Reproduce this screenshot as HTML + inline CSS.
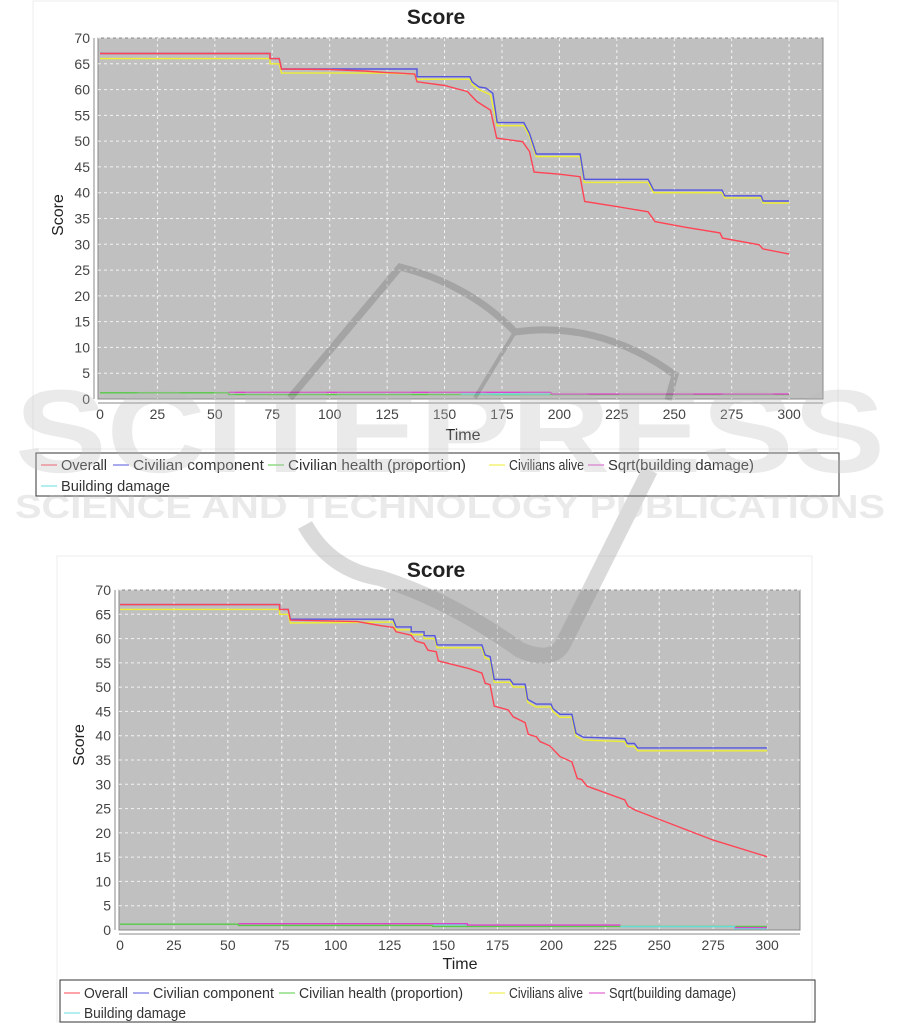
<!DOCTYPE html>
<html><head><meta charset="utf-8"><style>
html,body{margin:0;padding:0;background:#fff;}
svg{display:block;font-family:"Liberation Sans",sans-serif;}
</style></head><body>
<svg id="s" width="901" height="1024" viewBox="0 0 901 1024" xmlns="http://www.w3.org/2000/svg"></svg>
<script>
var NS="http://www.w3.org/2000/svg",S=document.getElementById('s');
function el(t,a,txt){var e=document.createElementNS(NS,t);for(var k in a)e.setAttribute(k,a[k]);if(txt!=null)e.textContent=txt;S.appendChild(e);return e;}
function chart(c){
 var X=function(t){return c.x0+t*c.sx},Y=function(v){return c.y0-v*c.sy};
 el('rect',{x:c.card[0],y:c.card[1],width:c.card[2],height:c.card[3],fill:'#fff',stroke:'#ececec'});
 el('text',{x:c.tx,y:c.ty,'font-size':21,'font-weight':'bold','text-anchor':'middle',fill:'#222'},'Score');
 el('rect',{x:c.px,y:c.py,width:c.pw,height:c.ph,fill:'#c0c0c0',stroke:'#888'});
 for(var t=25;t<=300;t+=25)el('line',{x1:X(t),x2:X(t),y1:c.py,y2:c.py+c.ph,stroke:'#fff','stroke-dasharray':'3,3','stroke-width':1,opacity:.8});
 for(var v=5;v<=70;v+=5)el('line',{x1:c.px,x2:c.px+c.pw,y1:Y(v),y2:Y(v),stroke:'#fff','stroke-dasharray':'3,3','stroke-width':1,opacity:.8});
 el('line',{x1:c.px-4,x2:c.px-4,y1:c.py,y2:c.py+c.ph,stroke:'#888'});
 el('line',{x1:c.px,x2:c.px+c.pw,y1:c.py+c.ph+4,y2:c.py+c.ph+4,stroke:'#888'});
 for(var t=0;t<=300;t+=25){el('text',{x:X(t),y:c.py+c.ph+20,'font-size':14,'text-anchor':'middle',fill:'#444'},t);}
 for(var v=0;v<=70;v+=5){el('text',{x:c.px-8,y:Y(v)+5,'font-size':14,'text-anchor':'end',fill:'#444'},v);}
 el('text',{x:c.timex,y:c.timey,'font-size':16,'text-anchor':'middle',fill:'#222'},'Time');
 el('text',{transform:'translate('+c.scx+','+c.scy+') rotate(-90)','font-size':16,'text-anchor':'middle',fill:'#222'},'Score');
 c.series.forEach(function(s){
  var d='';s.p.forEach(function(p,i){d+=(i?'L':'M')+X(p[0]).toFixed(1)+' '+Y(p[1]).toFixed(1)+' ';});
  el('path',{d:d,fill:'none',stroke:s.c,'stroke-width':1.4});
 });
 el('rect',{x:c.lg[0],y:c.lg[1],width:c.lg[2],height:c.lg[3],fill:'none',stroke:'#333'});
 var names=[['Overall','#ff4455'],['Civilian component','#5555dd'],['Civilian health (proportion)','#55cc44'],['Civilians alive','#eeee33'],['Sqrt(building damage)','#dd44cc']];
 names.forEach(function(n,i){var x=c.lx[i];el('line',{x1:x,x2:x+16,y1:c.ly1-5,y2:c.ly1-5,stroke:n[1]});el('text',{x:x+20,y:c.ly1,'font-size':14.5,fill:'#333',textLength:c.tl[i],lengthAdjust:'spacingAndGlyphs'},n[0]);});
 el('line',{x1:c.lx[0],x2:c.lx[0]+16,y1:c.ly2-5,y2:c.ly2-5,stroke:'#66dddd'});el('text',{x:c.lx[0]+20,y:c.ly2,'font-size':14.5,fill:'#333',textLength:c.tl[5],lengthAdjust:'spacingAndGlyphs'},'Building damage');
}
var r1=[[0,67],[74,67],[74,66],[78,66],[79,64],[100,63.9],[115,63.6],[125,63.3],[130,63.2],[137,63],[138,61.5],[150,60.8],[160,59.6],[164,57.7],[170,56],[172.7,50.6],[184,49.9],[187,48],[189,44],[200,43.6],[209,43.1],[211,38.3],[225,37.3],[238.6,36.3],[241.6,34.4],[255,33.3],[269.9,32.2],[271,31.2],[287,29.9],[288.6,29.1],[300,28.1]];
var b1=[[0,67],[74,67],[74,66],[78,66],[79,64],[138,64],[138,62.5],[161,62.5],[162,61.5],[165,60.5],[168,60.3],[171,59.3],[172.9,53.6],[184.5,53.6],[187,51.5],[189.9,47.5],[209,47.5],[210.8,42.6],[238.6,42.6],[241,40.5],[270.8,40.5],[272,39.4],[287.8,39.4],[288.7,38.4],[300,38.4]];
var y1=[[0,66],[74,66],[74,65],[78,65],[79,63.2],[125,63.2],[137,63],[138,62],[161,62],[162,61],[165,60],[170,59],[172.9,53],[184.5,53],[187,51],[189.9,47],[209,47],[210.8,42],[238.6,42],[241,40],[270.8,40],[272,39],[287.8,39],[288.7,38],[300,38]];
var r2=[[0,67],[74,67],[74,66],[78,66],[79,63.8],[110,63.5],[120.5,62.7],[126.7,62.3],[128,61.4],[135,60.7],[137,59.5],[141,59],[142.8,57.6],[146.6,57.3],[147.6,55.4],[162,53.8],[167.8,52.9],[169.3,50.8],[171.6,50.5],[173.5,46.1],[180,45.3],[182.3,43.9],[187.8,42.7],[189.3,40.3],[193,39.8],[194.7,38.8],[199.3,37.9],[204,35.7],[209.5,34.6],[212,31.2],[214,31],[216.5,29.6],[234,26.8],[235.5,25.5],[238.7,24.7],[275,18.5],[300,15.1]];
var b2=[[0,67],[74,67],[74,66],[78,66],[79,64],[126.6,64],[128,62.4],[135,62.4],[135,61.4],[141,61.4],[141,60.6],[146,60.6],[147,58.7],[167.8,58.7],[169.3,56.6],[171.6,56.3],[173.5,51.6],[180.8,51.6],[182.3,50.6],[187.8,50.6],[189,47.5],[193,46.5],[199.8,46.5],[200.7,45.6],[204,44.4],[209.5,44.4],[211.4,40.5],[214.9,39.7],[234,39.4],[235.2,38.4],[238.5,38.4],[240,37.5],[300,37.5]];
var y2=b2.map(function(p,i){return [p[0],i<4?p[1]-1:(i<5?63.2:p[1]-0.6)];});
var lo1=[
 {c:'#55cc44',p:[[0,1.2],[56,1.2],[56,0.85],[300,0.85]]},
 {c:'#66dddd',p:[[157,0.95],[196,0.95]]},
 {c:'#dd44cc',p:[[56,1.3],[196,1.3],[197,0.95],[300,0.95]]}];
var lo2=[
 {c:'#55cc44',p:[[0,1.2],[55,1.2],[55,0.95],[145,0.95],[145,0.75],[300,0.75]]},
 {c:'#66dddd',p:[[145,1.1],[161,1.1]]},{c:'#66dddd',p:[[232,0.7],[285,0.7],[285,0.3],[300,0.3]]},
 {c:'#dd44cc',p:[[55,1.3],[161,1.3],[161,1.0],[232,1.0]]},{c:'#dd44cc',p:[[285,0.5],[300,0.5]]}];
chart({x0:100,sx:2.297,y0:399,sy:5.157,card:[33,1,805,448],tx:436,ty:24,px:98,py:38,pw:725,ph:361,timex:463,timey:440,scx:63,scy:215,
 series:lo1.concat([{c:'#eeee33',p:y1},{c:'#5555dd',p:b1},{c:'#ff4455',p:r1}]),
 lg:[36,453,803,43],lx:[41,113,268,489,588],tl:[46,131,178,75,146,109],ly1:470,ly2:491});
chart({x0:120,sx:2.157,y0:930,sy:4.857,card:[57,556,755,466],tx:436,ty:577,px:119,py:590,pw:681,ph:340,timex:460,timey:969,scx:84,scy:745,
 series:lo2.concat([{c:'#eeee33',p:y2},{c:'#5555dd',p:b2},{c:'#ff4455',p:r2}]),
 lg:[60,980,755,42],lx:[64,133,279,489,589],tl:[44,121,164,74,127,102],ly1:998,ly2:1018});
var g=document.createElementNS(NS,'g');g.setAttribute('opacity','0.3');S.appendChild(g);
function w(t,a,txt){var e=document.createElementNS(NS,t);for(var k in a)e.setAttribute(k,a[k]);if(txt!=null)e.textContent=txt;g.appendChild(e);}
w('text',{x:450,y:472,'font-size':118,'font-weight':'bold','text-anchor':'middle',fill:'#bbb',textLength:870,lengthAdjust:'spacingAndGlyphs'},'SCITEPRESS');
w('text',{x:450,y:518,'font-size':33,'font-weight':'bold','text-anchor':'middle',fill:'#bbb',textLength:870,lengthAdjust:'spacingAndGlyphs'},'SCIENCE AND TECHNOLOGY PUBLICATIONS');
w('path',{d:'M290 398 L400 267 Q470 285 515 332 Q600 320 675 375 L668 400',fill:'none',stroke:'#666','stroke-width':7});
w('path',{d:'M515 332 L475 398',fill:'none',stroke:'#666','stroke-width':4});
w('path',{d:'M305 525 Q330 570 380 578 Q450 600 520 650 Q555 665 565 640 L650 470',fill:'none',stroke:'#888','stroke-width':16});
</script>
</body></html>
